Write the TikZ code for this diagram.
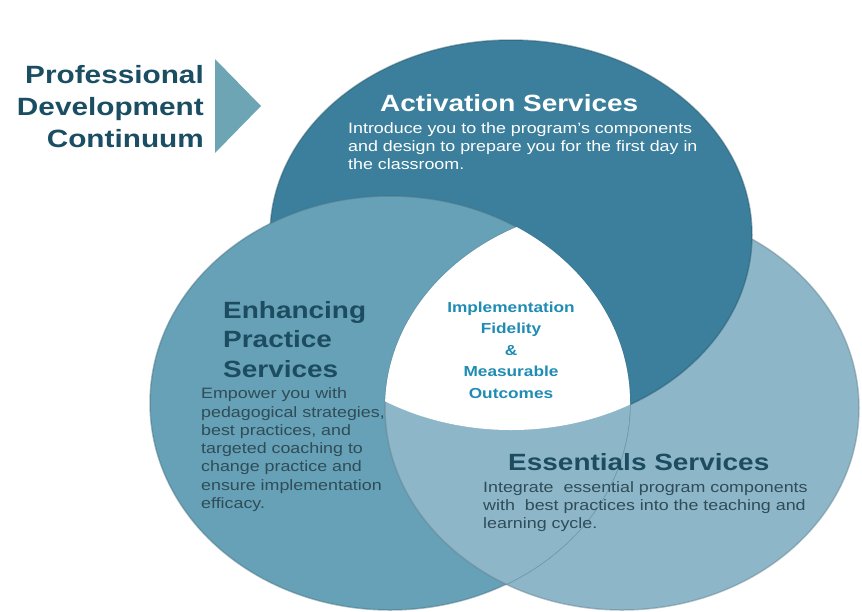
\documentclass[tikz,border=0pt]{standalone}
\usepackage{fontspec}
\setmainfont{Liberation Sans}[FakeStretch=1.19]
\usetikzlibrary{positioning}

\definecolor{actblue}{HTML}{3B7F9C}
\definecolor{enhblue}{HTML}{66A1B7}
\definecolor{essblue}{HTML}{8DB7C9}
\definecolor{arrowblue}{HTML}{6EA5B5}
\definecolor{titleblue}{HTML}{1B4E63}
\definecolor{headdark}{HTML}{1D4C60}
\definecolor{bodygrey}{HTML}{2F4C57}
\definecolor{centreblue}{HTML}{1F8CB3}

\newcommand{\actpath}{(511,235) ellipse [x radius=241pt, y radius=195pt]}
\newcommand{\enhpath}{(390,403) ellipse [x radius=240pt, y radius=207pt]}
\newcommand{\esspath}{(622,408) ellipse [x radius=237pt, y radius=202pt]}

\begin{document}
\begin{tikzpicture}[x=1pt, y=-1pt,
		rim/.style={draw=#1, line width=1.5pt, draw opacity=0.45},
		head/.style={inner sep=0pt, font=\bfseries\fontsize{23.5}{29.5}\selectfont, align=left},
		body/.style={inner sep=0pt, font=\fontsize{15}{18.3}\selectfont, align=left}]
	\useasboundingbox (0,0) rectangle (862,611);
	% the three rings, each one over the next
	\fill[essblue] \esspath;
	\draw[rim=essblue!70!black] \esspath;
	\fill[actblue] \actpath;
	\draw[rim=actblue!70!black] \actpath;
	\fill[enhblue] \enhpath;
	\draw[rim=enhblue!70!black] \enhpath;
	\begin{scope}
		\clip \enhpath;
		\fill[essblue] \esspath;
		\draw[rim=essblue!70!black] \esspath;
	\end{scope}
	% white centre
	\begin{scope}
		\clip \actpath;
		\clip \enhpath;
		\fill[white] \esspath;
	\end{scope}
	% arrow and title
	\fill[arrowblue] (215,59) -- (261,106) -- (215,153) -- cycle;
	\node[inner sep=0pt, anchor=north east, align=right, text=titleblue,
		font=\bfseries\fontsize{25}{32}\selectfont] (title) at (204,64.7)
		{Professional\\Development\\Continuum};
	% activation
	\node[head, anchor=base west, text=white] (acthead) at (380,111) {Activation Services};
	\node[body, text=white, below=11pt of acthead.base west, anchor=north west, xshift=-32pt] (actbody)
		{Introduce you to the program's components\\and design to prepare you for the first day in\\the classroom.};
	% enhancing
	\node[head, anchor=north west, text=headdark] (enhhead) at (223,301)
		{Enhancing\\Practice\\Services};
	\node[body, text=bodygrey, below=10pt of enhhead.south west, anchor=north west, xshift=-22pt] (enhbody)
		{Empower you with\\pedagogical strategies,\\best practices, and\\targeted coaching to\\change practice and\\ensure implementation\\efficacy.};
	% centre
	\node[inner sep=0pt, anchor=north, align=center, text=centreblue,
		font=\bfseries\fontsize{14.5}{21.5}\selectfont] (centre) at (511,301.5)
		{Implementation\\Fidelity\\\&\\Measurable\\Outcomes};
	% essentials
	\node[head, anchor=base west, text=headdark] (esshead) at (508,470) {Essentials Services};
	\node[body, text=bodygrey, below=11pt of esshead.base west, anchor=north west, xshift=-25pt] (essbody)
		{Integrate~ essential program components\\with~ best practices into the teaching and\\learning cycle.};
\end{tikzpicture}
\end{document}
